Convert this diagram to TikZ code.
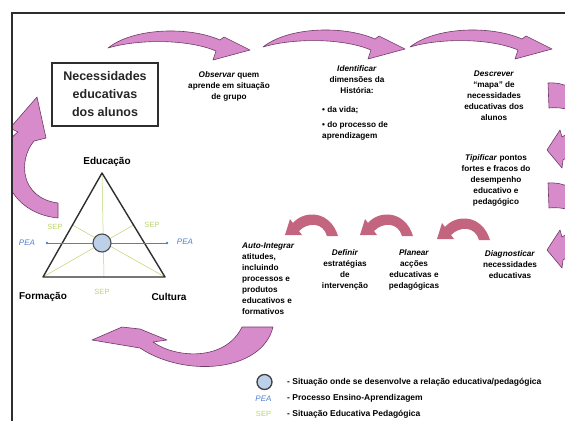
\documentclass[tikz,border=0pt]{standalone}
\usepackage{fontspec}
\setmainfont{Liberation Sans}
\usetikzlibrary{calc}

\definecolor{arrowpink}{HTML}{D88BCB}
\definecolor{arrowedge}{HTML}{6E3A66}
\definecolor{arrowrose}{HTML}{C4657F}
\definecolor{peablue}{HTML}{4F7FD0}
\definecolor{sepgreen}{HTML}{B9D46E}
\definecolor{framegray}{HTML}{2E2E2E}
\definecolor{hubblue}{HTML}{BCD0EA}

\tikzset{
  pinkarrow/.style={fill=arrowpink, draw=arrowedge, line width=0.6pt, line join=round},
  rosearrow/.style={fill=arrowrose},
  stagetext/.style={font=\fontsize{8.2}{11}\selectfont\bfseries, align=center, inner sep=0pt},
  vertexlabel/.style={font=\fontsize{10}{12}\selectfont\bfseries, inner sep=0pt},
  pealabel/.style={font=\fontsize{8}{10}\selectfont\itshape, text=peablue, inner sep=0pt},
  seplabel/.style={font=\fontsize{7.5}{9}\selectfont, text=sepgreen, inner sep=0pt},
  legendtext/.style={font=\fontsize{8.5}{10}\selectfont\bfseries, anchor=west, inner sep=0pt},
  % curved arrow over the top row, tail at the origin, head to the right
  toparrow/.pic={
    \path[pinkarrow] (0,1) .. controls (25,-19) and (80,-21) .. (112,-7)
      -- (116,-10) -- (142,3) -- (105,13) -- (108,4)
      .. controls (80,-8) and (30,-8) .. (0,1) -- cycle;
  },
  % curved arrow turning back on the right edge
  sidearrow/.pic={
    \path[pinkarrow] (0,0) .. controls (42,-3) and (57,52) .. (15,77)
      -- (14,85) -- (-1,67) -- (12,47) -- (14,54)
      .. controls (37,42) and (32,22) .. (1,25) -- cycle;
  },
  % small arc arrow of the lower row, tail at the origin, head to the left
  backarrow/.pic={
    \path[rosearrow] (0,0) .. controls (-8,-26) and (-34,-26) .. (-45,-13)
      -- (-48,-17) -- (-53,-1) -- (-36,-1) -- (-39,-5)
      .. controls (-30,-14) and (-15,-14) .. (-11,0) -- cycle;
  },
}

\begin{document}
\begin{tikzpicture}[x=1pt,y=-1pt]
\useasboundingbox (0,0) rectangle (565,421);

% arrows along the top
\pic at (108,47) {toparrow};
\pic at (263,46) {toparrow};
\pic at (410,46) {toparrow};

% arrows down the right edge
\pic at (548,83) {sidearrow};
\pic at (548,183) {sidearrow};

% arrow on the left, back up to the box
\begin{scope}
  \clip (12,0) rectangle (565,421);
  \path[pinkarrow] (37,97) -- (46,138) -- (34,141)
    .. controls (18,160) and (20,198) .. (58,203) -- (58,218)
    .. controls (0,212) and (-8,150) .. (18,132) -- (10,128) -- cycle;
\end{scope}

% large arrow at the bottom
\path[pinkarrow] (92,340) -- (122,327) -- (140,329) -- (167,340) -- (153,342)
  .. controls (175,358) and (225,362) .. (242,327) -- (273,327)
  .. controls (262,372) and (185,378) .. (140,348) -- cycle;

% arrows of the lower row
\pic at (490,240) {backarrow};
\pic at (413,236) {backarrow};
\pic at (338,236) {backarrow};

% frame
\draw[framegray, line width=1.6pt] (12,421) -- (12,13) -- (565,13);

% title box
\node[draw=framegray, line width=1.8pt, minimum width=106pt, minimum height=63pt,
      align=center, font=\fontsize{12.5}{18}\selectfont\bfseries, text=black!85]
  (needs) at (105,94.5) {Necessidades\\educativas\\dos alunos};

% stages
\node[stagetext] (observar) at (229,86.5) {\textit{Observar} quem\\aprende em situação\\de grupo};
\node[stagetext] (identificar) at (357,80) {\textit{Identificar}\\dimensões da\\História:};
\node[stagetext, anchor=west, align=left] (vida) at (322,110) {• da vida;};
\node[stagetext, anchor=west, align=left] (processo) at (322,131) {• do processo de\\aprendizagem};
\node[stagetext] (descrever) at (494,95.5) {\textit{Descrever}\\“mapa” de\\necessidades\\educativas dos\\alunos};
\node[stagetext] (tipificar) at (496,180) {\textit{Tipificar} pontos\\fortes e fracos do\\desempenho\\educativo e\\pedagógico};
\node[stagetext] (diagnosticar) at (510,265) {\textit{Diagnosticar}\\necessidades\\educativas};
\node[stagetext] (planear) at (414,270) {\textit{Planear}\\acções\\educativas e\\pedagógicas};
\node[stagetext] (definir) at (345,270) {\textit{Definir}\\estratégias\\de\\intervenção};
\node[stagetext, anchor=west, align=left] (integrar) at (242,279)
  {\textit{Auto-Integrar}\\atitudes,\\incluindo\\processos e\\produtos\\educativos e\\formativos};

% triangle of the educational relation
\coordinate (apex) at (102,173);
\coordinate (bl) at (43,277);
\coordinate (br) at (165,277);
\begin{scope}[sepgreen, line width=0.5pt]
  \draw (apex) -- ($(bl)!0.5!(br)$);
  \draw (bl) -- ($(apex)!0.5!(br)$);
  \draw (br) -- ($(apex)!0.5!(bl)$);
\end{scope}
\draw[framegray, line width=1.4pt, line join=round] (apex) -- (bl) -- (br) -- cycle;
\coordinate (peaL) at (47,243);
\coordinate (peaR) at (167,243);
\draw[peablue, line width=0.9pt] (peaL) -- (peaR);
\fill[peablue] (peaL) circle (1.4) (peaR) circle (1.4);
\node[circle, draw=black!70, fill=hubblue, line width=1.1pt, minimum size=18pt, inner sep=0pt] (hub) at (102,243) {};

\node[vertexlabel] (educacao) at (107,162) {Educação};
\node[vertexlabel] (formacao) at (43,297) {Formação};
\node[vertexlabel] (cultura) at (169,297) {Cultura};
\node[pealabel] (pealeft) at (27,243) {PEA};
\node[pealabel] (pearight) at (185,242) {PEA};
\node[seplabel] (sepleft) at (55,227) {SEP};
\node[seplabel] (sepright) at (152,225) {SEP};
\node[seplabel] (sepbottom) at (102,292) {SEP};

% legend
\node[circle, draw=black!75, fill=hubblue, line width=1.3pt, minimum size=15pt, inner sep=0pt] (keyhub) at (264.5,382) {};
\node[legendtext] (keyhubtext) at (287,382) {- Situação onde se desenvolve a relação educativa/pedagógica};
\node[pealabel] (keypea) at (263.5,398.5) {PEA};
\node[legendtext] (keypeatext) at (287,398.5) {- Processo Ensino-Aprendizagem};
\node[seplabel] (keysep) at (263.5,414) {SEP};
\node[legendtext] (keyseptext) at (287,414) {- Situação Educativa Pedagógica};
\end{tikzpicture}
\end{document}
